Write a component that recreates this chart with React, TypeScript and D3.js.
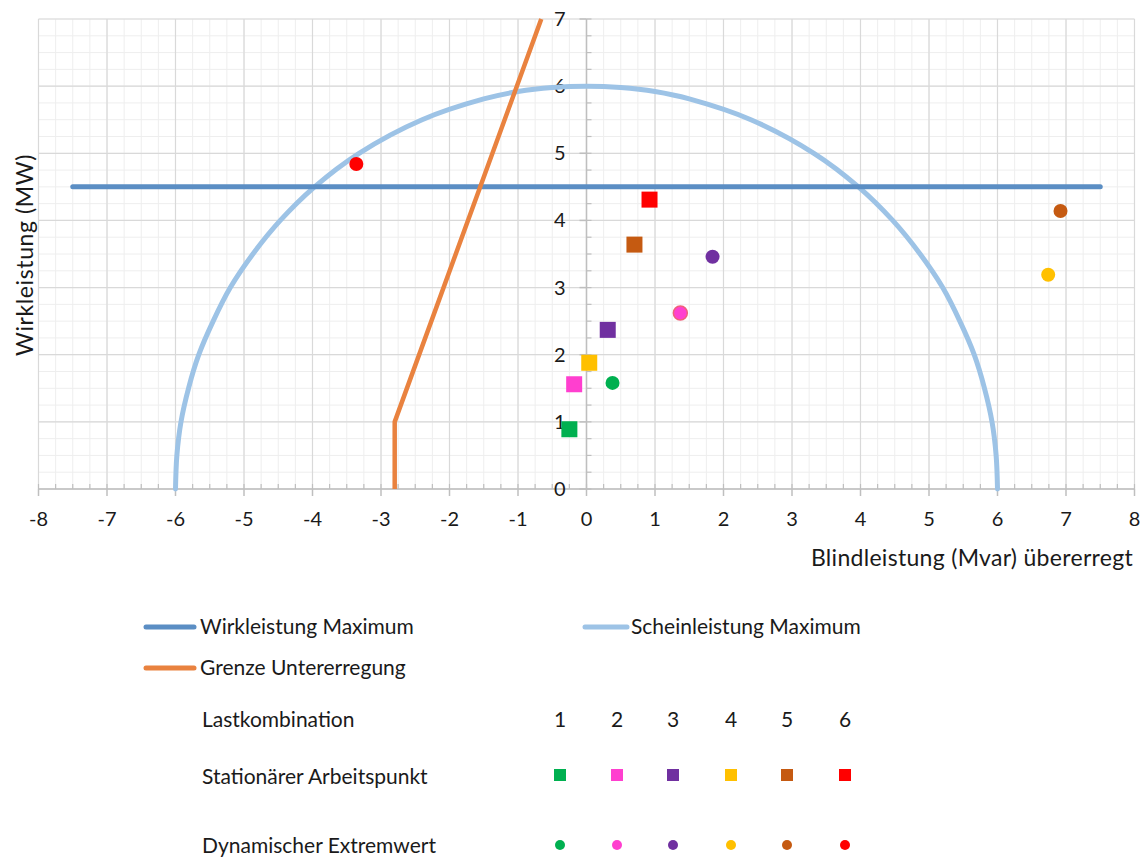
import React from "react";
import * as d3 from "d3";

const W = 1147;
const H = 859;

// Axis domains and ticks
const xTicks = [-8, -7, -6, -5, -4, -3, -2, -1, 0, 1, 2, 3, 4, 5, 6, 7, 8];
const yTicks = [0, 1, 2, 3, 4, 5, 6, 7];

// Wirkleistung Maximum (horizontal line)
const wirkX = [-7.5, 7.5];
const wirkY = [4.5, 4.5];

// Scheinleistung Maximum (arc)
const scheinX = [-6, -5.98, -5.92, -5.81, -5.66, -5.45, -5.2, -4.87, -4.47, -3.97, -3.32, -2.4, -1.5, -1.0, -0.5, 0, 0.5, 1.0, 1.5, 2.4, 3.32, 3.97, 4.47, 4.87, 5.2, 5.45, 5.66, 5.81, 5.92, 5.98, 6];
const scheinY = [0, 0.5, 1.0, 1.5, 2.0, 2.5, 3.0, 3.5, 4.0, 4.5, 5.0, 5.5, 5.81, 5.92, 5.98, 6.0, 5.98, 5.92, 5.81, 5.5, 5.0, 4.5, 4.0, 3.5, 3.0, 2.5, 2.0, 1.5, 1.0, 0.5, 0];

// Grenze Untererregung
const grenzeX = [-2.8, -2.8, -0.66];
const grenzeY = [0, 1, 7];

// Lastkombinationen
const combos = ["1", "2", "3", "4", "5", "6"];
const comboColors = ["#00b050", "#ff3fcf", "#7030a0", "#ffc000", "#c55a11", "#ff0000"];

// Stationärer Arbeitspunkt (squares)
const statX = [-0.25, -0.18, 0.31, 0.04, 0.70, 0.92];
const statY = [0.89, 1.56, 2.37, 1.88, 3.64, 4.31];

// Dynamischer Extremwert (circles)
const dynX = [0.38, 1.37, 1.84, 6.74, 6.92, -3.36];
const dynY = [1.58, 2.62, 3.46, 3.19, 4.14, 4.84];

const FONT = "Lato, 'Open Sans', sans-serif";
const TXT = "#1a1a1a";

export default function App() {
  const x = d3.scaleLinear().domain([-8, 8]).range([38.5, 1134.5]);
  const y = d3.scaleLinear().domain([0, 7]).range([489, 19]);

  const minorX = d3.range(-8, 8.001, 0.25);
  const minorY = d3.range(0, 7.001, 0.25);

  const line = d3
    .line<[number, number]>()
    .x((d) => x(d[0]))
    .y((d) => y(d[1]));
  const smooth = d3
    .line<[number, number]>()
    .x((d) => x(d[0]))
    .y((d) => y(d[1]))
    .curve(d3.curveCatmullRom);

  const wirkPts = wirkX.map((v, i) => [v, wirkY[i]] as [number, number]);
  const scheinPts = scheinX.map((v, i) => [v, scheinY[i]] as [number, number]);
  const grenzePts = grenzeX.map((v, i) => [v, grenzeY[i]] as [number, number]);

  const x0 = x(0);
  const y0 = y(0);

  const legendX = [560, 617, 673, 731, 787, 845];

  return (
    <svg width={W} height={H} style={{ position: "absolute", left: 0, top: 0, background: "#fff" }} fontFamily={FONT}>
      <rect x={0} y={0} width={W} height={H} fill="#fff" />
      {/* minor grid */}
      {minorX.map((v, i) => (
        <line key={"mx" + i} x1={x(v)} x2={x(v)} y1={y(0)} y2={y(7)} stroke="#eeeeee" strokeWidth={1} />
      ))}
      {minorY.map((v, i) => (
        <line key={"my" + i} x1={x(-8)} x2={x(8)} y1={y(v)} y2={y(v)} stroke="#eeeeee" strokeWidth={1} />
      ))}
      {/* major grid */}
      {xTicks.map((v) => (
        <line key={"gx" + v} x1={x(v)} x2={x(v)} y1={y(0)} y2={y(7)} stroke="#d9d9d9" strokeWidth={1.2} />
      ))}
      {yTicks.map((v) => (
        <line key={"gy" + v} x1={x(-8)} x2={x(8)} y1={y(v)} y2={y(v)} stroke="#d9d9d9" strokeWidth={1.2} />
      ))}
      {/* axes */}
      <line x1={x(-8)} x2={x(8)} y1={y0} y2={y0} stroke="#bfbfbf" strokeWidth={1.5} />
      <line x1={x0} x2={x0} y1={y(0)} y2={y(7)} stroke="#bfbfbf" strokeWidth={1.5} />
      {minorX.map((v, i) => (
        <line key={"tx" + i} x1={x(v)} x2={x(v)} y1={y0 - 5} y2={y0} stroke="#bfbfbf" strokeWidth={1.2} />
      ))}
      {xTicks.map((v) => (
        <line key={"Tx" + v} x1={x(v)} x2={x(v)} y1={y0} y2={y0 + 7} stroke="#bfbfbf" strokeWidth={1.5} />
      ))}
      {minorY.map((v, i) => (
        <line key={"ty" + i} x1={x0} x2={x0 + 5} y1={y(v)} y2={y(v)} stroke="#bfbfbf" strokeWidth={1.2} />
      ))}
      {yTicks.map((v) => (
        <line key={"Ty" + v} x1={x0 - 7} x2={x0} y1={y(v)} y2={y(v)} stroke="#bfbfbf" strokeWidth={1.5} />
      ))}
      {/* tick labels */}
      {xTicks.map((v) => (
        <text key={"lx" + v} x={x(v)} y={y0 + 37} textAnchor="middle" fontSize={20} fill={TXT}>
          {v}
        </text>
      ))}
      {yTicks.map((v) => (
        <text key={"ly" + v} x={x0 - 21} y={y(v) + 7} textAnchor="end" fontSize={20} fill={TXT}>
          {v}
        </text>
      ))}
      {/* axis titles */}
      <text x={1133} y={566} textAnchor="end" fontSize={23} letterSpacing={0.3} fill={TXT}>
        Blindleistung (Mvar) übererregt
      </text>
      <text transform={`translate(33, 255) rotate(-90)`} textAnchor="middle" fontSize={23} letterSpacing={0.6} fill={TXT}>
        Wirkleistung (MW)
      </text>
      {/* series lines */}
      <path d={smooth(scheinPts) || ""} fill="none" stroke="#9dc3e6" strokeWidth={5} strokeLinecap="round" />
      <path d={line(wirkPts) || ""} fill="none" stroke="#5b8ec4" strokeWidth={5} strokeLinecap="round" />
      <path d={line(grenzePts) || ""} fill="none" stroke="#e9823f" strokeWidth={4.5} strokeLinejoin="round" />
      {/* points */}
      {statX.map((v, i) => (
        <rect key={"s" + i} x={x(v) - 8} y={y(statY[i]) - 8} width={16} height={16} fill={comboColors[i]} />
      ))}
      {dynX.map((v, i) => (
        <circle key={"d" + i} cx={x(v)} cy={y(dynY[i])} r={7} fill={comboColors[i]} stroke={i === 1 ? "#f0607a" : "none"} strokeWidth={1.5} />
      ))}
      {/* legend */}
      <line x1={146} x2={194} y1={627} y2={627} stroke="#5b8ec4" strokeWidth={5} strokeLinecap="round" />
      <text x={200} y={634} fontSize={21} fill={TXT}>Wirkleistung Maximum</text>
      <line x1={585} x2={627} y1={627} y2={627} stroke="#9dc3e6" strokeWidth={5} strokeLinecap="round" />
      <text x={631} y={634} fontSize={21} fill={TXT}>Scheinleistung Maximum</text>
      <line x1={146} x2={194} y1={668} y2={668} stroke="#e9823f" strokeWidth={5} strokeLinecap="round" />
      <text x={200} y={675} fontSize={21} fill={TXT}>Grenze Untererregung</text>

      <text x={202} y={727} fontSize={21} fill={TXT}>Lastkombination</text>
      <text x={202} y={784} fontSize={21} fill={TXT}>Stationärer Arbeitspunkt</text>
      <text x={202} y={853} fontSize={21} fill={TXT}>Dynamischer Extremwert</text>
      {combos.map((c, i) => (
        <g key={"lg" + i}>
          <text x={legendX[i]} y={727} textAnchor="middle" fontSize={21} fill={TXT}>{c}</text>
          <rect x={legendX[i] - 6} y={769} width={12} height={12} fill={comboColors[i]} />
          <circle cx={legendX[i]} cy={845} r={5} fill={comboColors[i]} />
        </g>
      ))}
    </svg>
  );
}
